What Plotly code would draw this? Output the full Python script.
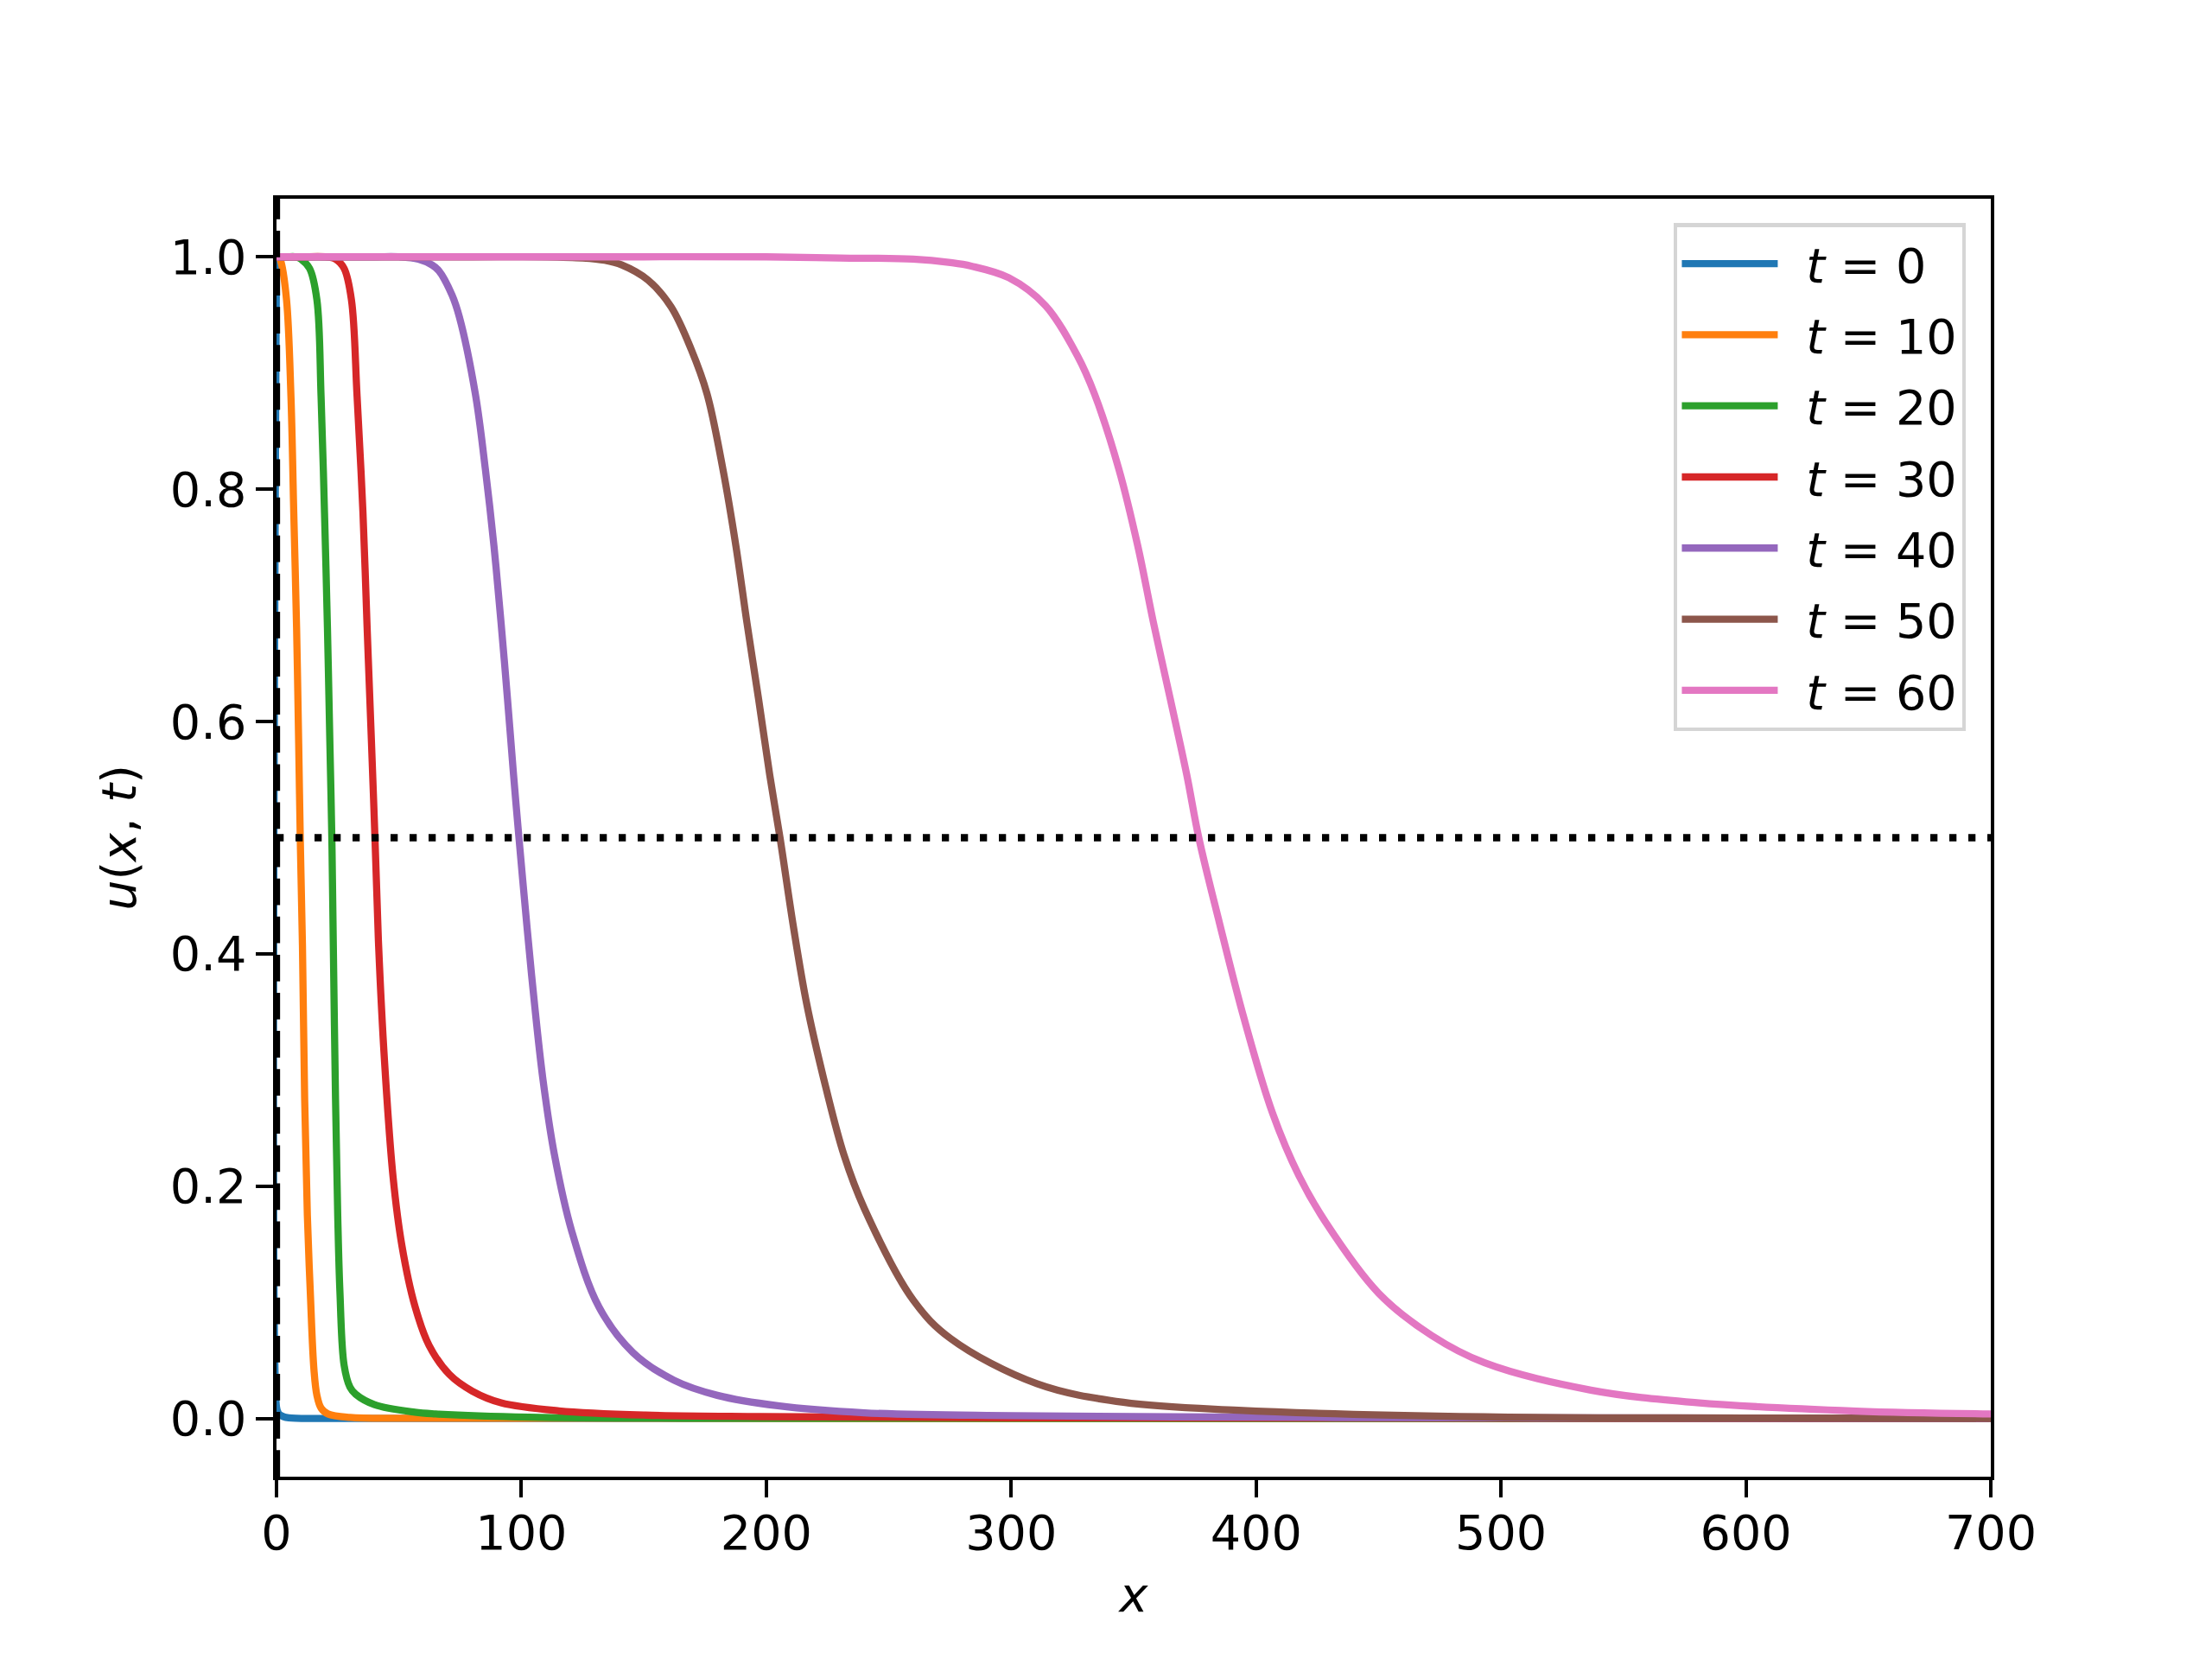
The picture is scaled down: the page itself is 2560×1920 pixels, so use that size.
import plotly.graph_objects as go

# ---- data ----
times = [0, 10, 20, 30, 40, 50, 60]
colors = ["#1f77b4", "#ff7f0e", "#2ca02c", "#d62728", "#9467bd", "#8c564b", "#e377c2"]

x_t0 = [0, 0, 0.5, 1, 2, 3, 5, 8, 15, 700]
u_t0 = [1, 0.01, 0.006, 0.004, 0.0025, 0.0015, 0.0007, 0.0003, 0.0001, 0]

x_t10 = [0, 1, 1.8, 4.1, 5.9, 7.05, 8.2, 9.06, 9.7, 10.6, 11.5, 12.6, 13.8, 15.3, 16.5, 18.2, 21, 30, 60, 700]
u_t10 = [1, 1, 0.996, 0.963, 0.88, 0.78, 0.681, 0.581, 0.5, 0.407, 0.275, 0.175, 0.109, 0.042, 0.02, 0.009, 0.004, 0.001, 0.0003, 0]

x_t20 = [0, 4, 8, 10, 13.5, 16.5, 18.2, 19.6, 20.8, 21.8, 22.6, 23.2, 24.1, 25, 25.9, 27.6, 30, 32.3, 40, 56.5, 65, 103, 200, 700]
u_t20 = [1, 1, 1, 0.998, 0.99, 0.963, 0.88, 0.78, 0.681, 0.581, 0.5, 0.407, 0.275, 0.175, 0.109, 0.046, 0.027, 0.021, 0.012, 0.0055, 0.004, 0.0012, 0.0003, 0]

x_t30 = [0, 10, 20, 24.1, 27.6, 30.6, 32.9, 35.3, 37, 38.8, 40.2, 41.7, 44.1, 47.6, 51.2, 56.5, 62.3, 70.6, 80, 91.7, 115.3, 150.6, 197.6, 300, 700]
u_t30 = [1, 1, 1, 0.998, 0.99, 0.963, 0.88, 0.78, 0.681, 0.581, 0.5, 0.407, 0.308, 0.208, 0.149, 0.097, 0.063, 0.038, 0.0236, 0.0136, 0.0067, 0.003, 0.0017, 0.0007, 0]

x_t40 = [0, 20, 40, 50, 58, 63.5, 66.3, 71.7, 74.7, 81.2, 85.3, 88.8, 91.7, 94.3, 96.8, 99, 102.3, 105.3, 108.8, 113.5, 120.6, 131.7, 145.5, 162.3, 180, 204.7, 240, 300, 400, 500, 700]
u_t40 = [1, 1, 1, 1, 0.998, 0.993, 0.988, 0.967, 0.948, 0.882, 0.817, 0.751, 0.685, 0.62, 0.554, 0.5, 0.423, 0.358, 0.292, 0.227, 0.161, 0.096, 0.057, 0.033, 0.02, 0.011, 0.005, 0.0025, 0.0012, 0.0006, 0.0002]

x_t50 = [0, 40, 80, 110, 125, 134, 141, 151.7, 161.1, 169.4, 175.8, 182.3, 187.6, 192.1, 196.8, 201.4, 205.6, 211.1, 216.4, 223.5, 231.7, 240, 260, 275.2, 310.5, 345.8, 392.8, 493, 600, 700]
u_t50 = [1, 1, 1, 1, 0.999, 0.997, 0.993, 0.98, 0.957, 0.92, 0.882, 0.817, 0.751, 0.685, 0.62, 0.554, 0.5, 0.423, 0.358, 0.292, 0.227, 0.181, 0.102, 0.069, 0.03, 0.014, 0.0072, 0.0015, 0.0005, 0.0002]

x_t60 = [0, 50, 100, 150, 200, 230, 260, 275.2, 283.7, 299, 314, 327, 334, 344, 351.7, 358.1, 364.9, 371.7, 376.6, 385, 395, 406.7, 417.5, 428.4, 450, 471.7, 493.3, 536.7, 580, 645, 700]
u_t60 = [1, 1, 1, 1, 1, 0.999, 0.998, 0.995, 0.992, 0.982, 0.958, 0.915, 0.882, 0.817, 0.751, 0.685, 0.62, 0.554, 0.5, 0.427, 0.345, 0.263, 0.209, 0.169, 0.108, 0.0715, 0.048, 0.0245, 0.0137, 0.0065, 0.004]

series_x = [x_t0, x_t10, x_t20, x_t30, x_t40, x_t50, x_t60]
series_u = [u_t0, u_t10, u_t20, u_t30, u_t40, u_t50, u_t60]

x_ticks = [0, 100, 200, 300, 400, 500, 600, 700]
y_ticks = [0.0, 0.2, 0.4, 0.6, 0.8, 1.0]
x_range = [0, 700]
y_range = [-0.05, 1.05]
half_level = 0.5
front_start = 0

FONT = "DejaVu Sans"
FS = 55.6
LW = 8.3

fig = go.Figure()
for t, xs, us, c in zip(times, series_x, series_u, colors):
    fig.add_trace(go.Scatter(
        x=xs, y=us, mode="lines", name=f"\u2002<i>t</i> = {t}",
        line=dict(color=c, width=LW, shape="spline", smoothing=1.0), legendgroup=str(t),
    ))

fig.add_vline(x=front_start, line=dict(color="black", width=LW, dash="30.8px,13.3px"))
fig.add_hline(y=half_level, line=dict(color="black", width=LW, dash="8.3px,13.7px"))

axis_common = dict(
    showline=True, linecolor="black", linewidth=4.4, mirror=True,
    ticks="outside", ticklen=19.4, tickwidth=4.4, tickcolor="black",
    showgrid=False, zeroline=False,
    tickfont=dict(family=FONT, size=FS, color="black"),
)

fig.update_xaxes(range=x_range, tickvals=x_ticks, ticktext=[str(v) for v in x_ticks],
                 ticklabelstandoff=-6,
                 title=dict(text="<i>x</i>", font=dict(family=FONT, size=FS, color="black"), standoff=22),
                 **axis_common)
fig.update_yaxes(range=y_range, tickvals=y_ticks, ticktext=[f"{v:.1f}" for v in y_ticks],
                 title=dict(text="<i>u</i>(<i>x</i>, <i>t</i>)", font=dict(family=FONT, size=FS, color="black"), standoff=22),
                 **axis_common)

fig.update_layout(
    width=2560, height=1920, autosize=False,
    margin=dict(l=320, r=256, t=230, b=211, pad=0),
    paper_bgcolor="white", plot_bgcolor="white",
    font=dict(family=FONT, size=FS, color="black"),
    showlegend=True,
    legend=dict(
        x=0.9854, y=0.981, xanchor="right", yanchor="top",
        bgcolor="white", bordercolor="#d5d5d5", borderwidth=4.4,
        font=dict(family=FONT, size=FS, color="black"),
        itemwidth=111, traceorder="grouped", tracegroupgap=7,
    ),
)

fig.write_html("out.html", config={"displayModeBar": False},
               post_script="document.body.style.margin='0';document.body.style.overflow='hidden';")
